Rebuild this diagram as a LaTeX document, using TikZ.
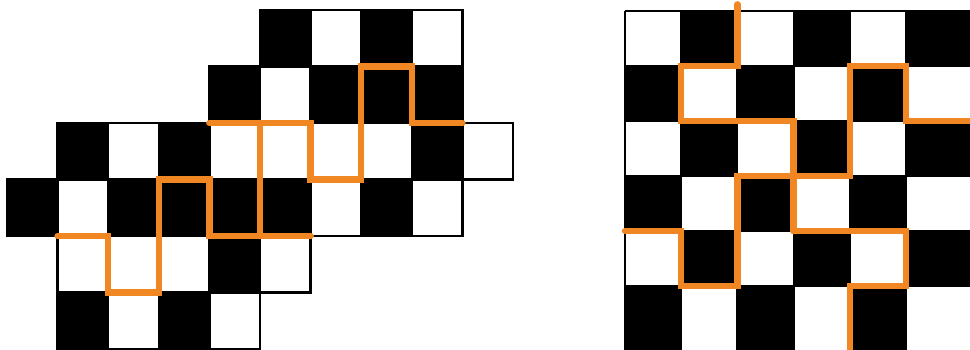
\documentclass[tikz,border=0pt]{standalone}
\definecolor{pathorange}{RGB}{240,135,35}
\tikzset{
    cellw/.style={fill=white, draw=black, line width=2.5pt},
    cellb/.style={fill=black, draw=black, line width=2.5pt},
    gridline/.style={draw=black, line width=2pt},
    cut/.style={draw=pathorange, line width=6.5pt, line cap=round},
}
\begin{document}
\begin{tikzpicture}[x=1pt, y=-1pt]
    \useasboundingbox (0,0) rectangle (970,349);
    \clip (0,0) rectangle (970,349);

    % 左图
    \begin{scope}[shift={(7,10)}, x=50.6pt, y=-56.5pt]
        % 白格
        \foreach \r/\a/\b in {0/5/8, 1/4/8, 2/1/9, 3/0/8, 4/1/5, 5/1/4}
            \foreach \c in {\a,...,\b}
                \draw[cellw] (\c,\r) rectangle ++(1,1);
        % 黑格
        \foreach \c/\r in {5/0, 7/0, 4/1, 6/1, 7/1, 8/1, 1/2, 3/2, 8/2,
                           0/3, 2/3, 3/3, 4/3, 5/3, 7/3, 4/4, 1/5, 3/5}
            \draw[cellb] (\c,\r) rectangle ++(1,1);
        % 折线
        \draw[cut] (1,4) -| (2,5) -| (3,3) -| (4,4) -- (6,4);
        \draw[cut] (4,2) -- (6,2) |- (7,3) |- (8,1) |- (9,2);
        \draw[cut] (5,4) -- (5,2);
    \end{scope}

    % 右图
    \begin{scope}[shift={(625,11)}, x=56.2pt, y=-55pt]
        % 棋盘
        \foreach \r in {0,...,5}
            \foreach \c in {0,...,5} {
                \pgfmathtruncatemacro{\k}{100*mod(\r+\c,2)}
                \fill[black!\k] (\c,\r) rectangle ++(1.3,1.3);
            }
        \foreach \r in {0,...,5}
            \draw[gridline] (0,\r) -- (6.3,\r);
        \foreach \c in {0,...,5}
            \draw[gridline] (\c,0) -- (\c,6.3);
        % 折线
        \draw[cut] (2,-0.12) |- (1,1) |- (3,2) -- (3,4);
        \draw[cut] (0,4) -| (1,5) -| (2,3) -- (4,3) |- (5,1) |- (6.3,2);
        \draw[cut] (3,4) -| (5,5) -| (4,6.3);
    \end{scope}
\end{tikzpicture}
\end{document}
